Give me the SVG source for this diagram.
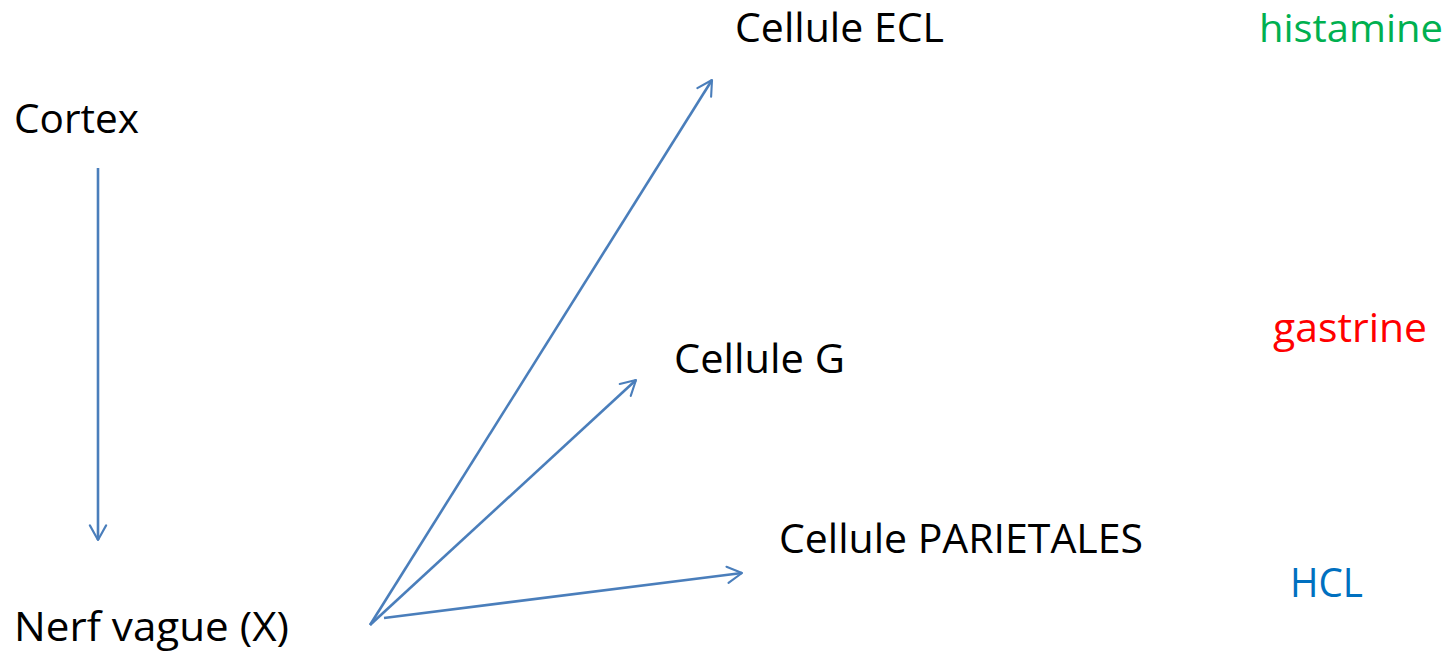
<svg xmlns="http://www.w3.org/2000/svg" width="1455" height="656" viewBox="0 0 1455 656">
  <style>
    text { font-family: "Open Sans", "Liberation Sans", sans-serif; font-size: 41px; fill: #000; }
    .hist { fill: #00B050; font-size: 39px; }
    .gast { fill: #FF0000; }
    .hcl { fill: #0070C0; }
    .link { stroke: #4A7EBB; stroke-width: 2.6; fill: none; marker-end: url(#open); }
  </style>
  <defs>
    <marker id="open" viewBox="0 0 12 12" refX="10" refY="6" markerWidth="7.5" markerHeight="7.5" orient="auto" markerUnits="strokeWidth">
      <path d="M1,1 L10,6 L1,11" fill="none" stroke="#4A7EBB" stroke-width="1.3" stroke-linecap="round" stroke-linejoin="round"/>
    </marker>
  </defs>

  <g id="cortex"><text x="14" y="133" textLength="125" lengthAdjust="spacingAndGlyphs">Cortex</text></g>
  <g id="nerf-vague"><text x="14" y="641" textLength="275" lengthAdjust="spacingAndGlyphs">Nerf vague (X)</text></g>
  <g id="cellule-ecl"><text x="735" y="42" textLength="209" lengthAdjust="spacingAndGlyphs">Cellule ECL</text></g>
  <g id="cellule-g"><text x="674" y="373" textLength="171" lengthAdjust="spacingAndGlyphs">Cellule G</text></g>
  <g id="cellule-parietales"><text x="779" y="553" textLength="364" lengthAdjust="spacingAndGlyphs">Cellule PARIETALES</text></g>
  <g id="histamine"><text class="hist" x="1259" y="42" textLength="184" lengthAdjust="spacingAndGlyphs">histamine</text></g>
  <g id="gastrine"><text class="gast" x="1273" y="342" textLength="154" lengthAdjust="spacingAndGlyphs">gastrine</text></g>
  <g id="hcl"><text class="hcl" x="1290" y="597" textLength="73" lengthAdjust="spacingAndGlyphs">HCL</text></g>

  <g id="connectors">
    <line class="link" x1="98" y1="168" x2="98" y2="540"/>
    <line class="link" x1="370" y1="625" x2="712" y2="80"/>
    <line class="link" x1="370" y1="625" x2="636" y2="380"/>
    <line class="link" x1="384" y1="618" x2="742" y2="573"/>
  </g>
</svg>
